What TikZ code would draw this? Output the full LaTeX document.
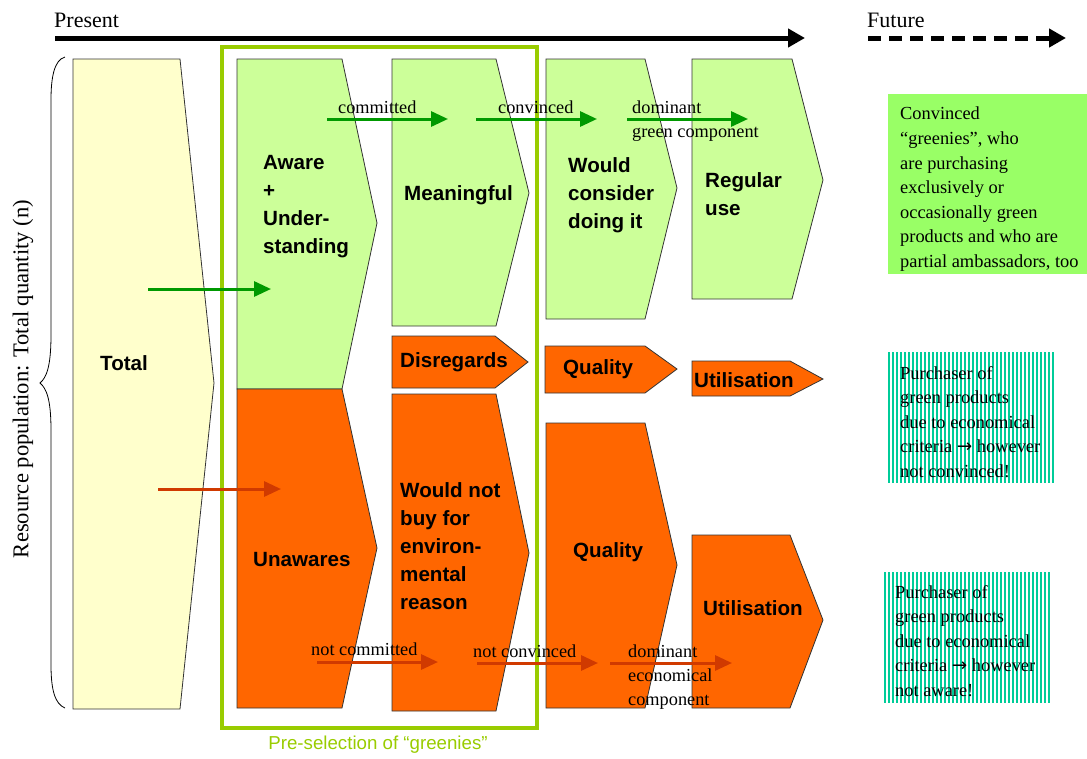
\documentclass[tikz,border=0pt]{standalone}
\usepackage{fontspec}
\setmainfont{Liberation Serif}
\setsansfont{Liberation Sans}
\newfontfamily\symfont{DejaVu Sans}
\usetikzlibrary{arrows.meta}
\definecolor{lgreen}{HTML}{CCFF99}
\definecolor{orng}{HTML}{FF6600}
\definecolor{ylw}{HTML}{FFFFCC}
\definecolor{selgreen}{HTML}{99CC00}
\definecolor{arrgreen}{HTML}{009900}
\definecolor{arrorange}{HTML}{D03A00}
\definecolor{boxgreen}{HTML}{99FF66}
\definecolor{stripecol}{HTML}{00CC99}
\newcommand\chevshape[7]{%
  \draw[shapeline, fill=#1] (#2,#5) -- (#3,#5) -- (#4,#7) -- (#3,#6) -- (#2,#6) -- cycle;}
\tikzset{
  shapeline/.style={draw=black!80, line width=0.8pt},
  lab/.style={font=\sffamily\bfseries\fontsize{20.6}{28}\selectfont, align=left, anchor=west, inner sep=0pt},
  small/.style={font=\fontsize{18.3}{24}\selectfont, align=left, anchor=west, inner sep=0pt},
  boxtext/.style={font=\fontsize{18.4}{24.6}\selectfont, align=left, anchor=north west, inner sep=0pt},
  garrow/.style={draw=arrgreen, line width=3pt, -{Triangle[length=17pt,width=15pt]}},
  oarrow/.style={draw=arrorange, line width=3pt, -{Triangle[length=17pt,width=15pt]}},
  axis/.style={line width=5pt, -{Triangle[length=17pt,width=18pt]}},
}
\begin{document}
\begin{tikzpicture}[x=1pt,y=-1pt]
\useasboundingbox (0,0) rectangle (1087,758);
% timeline
\node[font=\fontsize{22}{24}\selectfont, anchor=west, inner sep=0pt] (present) at (54,20) {Present};
\node[font=\fontsize{22}{24}\selectfont, anchor=west, inner sep=0pt] (future) at (867,20) {Future};
\coordinate (ps) at (55,38); \coordinate (pe) at (805,38);
\draw[axis] (ps) -- (pe);
\coordinate (fs) at (868,38); \coordinate (fe) at (1066,38);
\draw[axis, dash pattern=on 13pt off 8pt] (fs) -- (fe);
% brace and vertical label
\draw[line width=0.8pt] (65,57) .. controls (54,60) and (51,78) .. (51,100) -- (51,335)
  .. controls (51,368) and (46,378) .. (40,383) .. controls (46,388) and (51,398) .. (51,430)
  -- (51,665) .. controls (51,690) and (55,704) .. (65,708);
\node[font=\fontsize{22.6}{24}\selectfont, rotate=90, inner sep=0pt] (resource) at (23,379) {Resource population: Total quantity (n)};
% shapes
\chevshape{ylw}{73}{180}{214}{59}{709}{383}
\chevshape{lgreen}{237}{342}{377}{59}{389}{223}
\chevshape{orng}{237}{342}{377}{389}{708}{548}
\chevshape{lgreen}{392}{496}{529}{59}{326}{193}
\chevshape{orng}{392}{495}{528}{336}{388}{362}
\chevshape{orng}{392}{496}{529}{394}{711}{553}
\chevshape{lgreen}{546}{645}{677}{59}{319}{188}
\chevshape{lgreen}{692}{792}{823}{59}{299}{180}
\chevshape{orng}{545}{645}{677}{346}{393}{369}
\chevshape{orng}{692}{790}{823}{361}{396}{379}
\chevshape{orng}{546}{645}{677}{423}{708}{565}
\chevshape{orng}{692}{790}{823}{535}{708}{620}
% pre-selection frame
\draw[selgreen, line width=4pt] (222,47) rectangle (537,728);
\node[font=\sffamily\fontsize{18.7}{20}\selectfont, text=selgreen, inner sep=0pt] (presel) at (378,745) {Pre-selection of “greenies”};
% shape labels
\node[lab] (total) at (100,363) {Total};
\node[lab] (aware) at (263,207) {Aware\\+\\Under-\\standing};
\node[lab] (unaware) at (253,560) {Unawares};
\node[lab] (meaning) at (404,195) {Meaningful};
\node[lab] (disreg) at (400,362) {Disregards};
\node[lab] (wouldnot) at (400,546) {Would not\\buy for\\environ-\\mental\\reason};
\node[lab] (consider) at (568,195) {Would\\consider\\doing it};
\node[lab] (regular) at (705,194) {Regular\\use};
\node[lab] (qual1) at (563,369) {Quality};
\node[lab] (util1) at (694,380) {Utilisation};
\node[lab] (qual2) at (573,552) {Quality};
\node[lab] (util2) at (703,608) {Utilisation};
% flow arrows
\coordinate (ga0) at (148,289); \coordinate (ga1) at (271,289);
\draw[garrow] (ga0) -- (ga1);
\coordinate (oa0) at (158,489); \coordinate (oa1) at (281,489);
\draw[oarrow] (oa0) -- (oa1);
\coordinate (g1s) at (327,119); \coordinate (g1e) at (448,119);
\coordinate (g2s) at (476,119); \coordinate (g2e) at (597,119);
\coordinate (g3s) at (627,119); \coordinate (g3e) at (748,119);
\draw[garrow] (g1s) -- (g1e);
\draw[garrow] (g2s) -- (g2e);
\draw[garrow] (g3s) -- (g3e);
\coordinate (o1s) at (317,662); \coordinate (o1e) at (438,662);
\coordinate (o2s) at (477,663); \coordinate (o2e) at (598,663);
\coordinate (o3s) at (610,663); \coordinate (o3e) at (732,663);
\draw[oarrow] (o1s) -- (o1e);
\draw[oarrow] (o2s) -- (o2e);
\draw[oarrow] (o3s) -- (o3e);
\node[small] (committed) at (338,107) {committed};
\node[small] (convinced) at (498,107) {convinced};
\node[small, anchor=north west] (domgreen) at (632,101) {dominant\\green component};
\node[small] (notcomm) at (311,649) {not committed};
\node[small] (notconv) at (473,651) {not convinced};
\node[small, anchor=north west] (domeco) at (628,645) {dominant\\economical\\component};
% outcome boxes
\fill[boxgreen] (888,94) rectangle (1087,274);
\node[boxtext] (conv) at (900,107) {Convinced\\“greenies”, who\\are purchasing\\exclusively or\\occasionally green\\products and who are\\partial ambassadors, too};
\foreach \i in {0,...,41} \fill[stripecol] ({888+\i*4},352) rectangle ++(2.1,131);
\node[boxtext] (pur1) at (900,366) {Purchaser of\\green products\\due to economical\\criteria {\symfont →} however\\not convinced!};
\foreach \i in {0,...,41} \fill[stripecol] ({884+\i*4},572) rectangle ++(2.1,131);
\node[boxtext] (pur2) at (895,585) {Purchaser of\\green products\\due to economical\\criteria {\symfont →} however\\not aware!};
\end{tikzpicture}
\end{document}
